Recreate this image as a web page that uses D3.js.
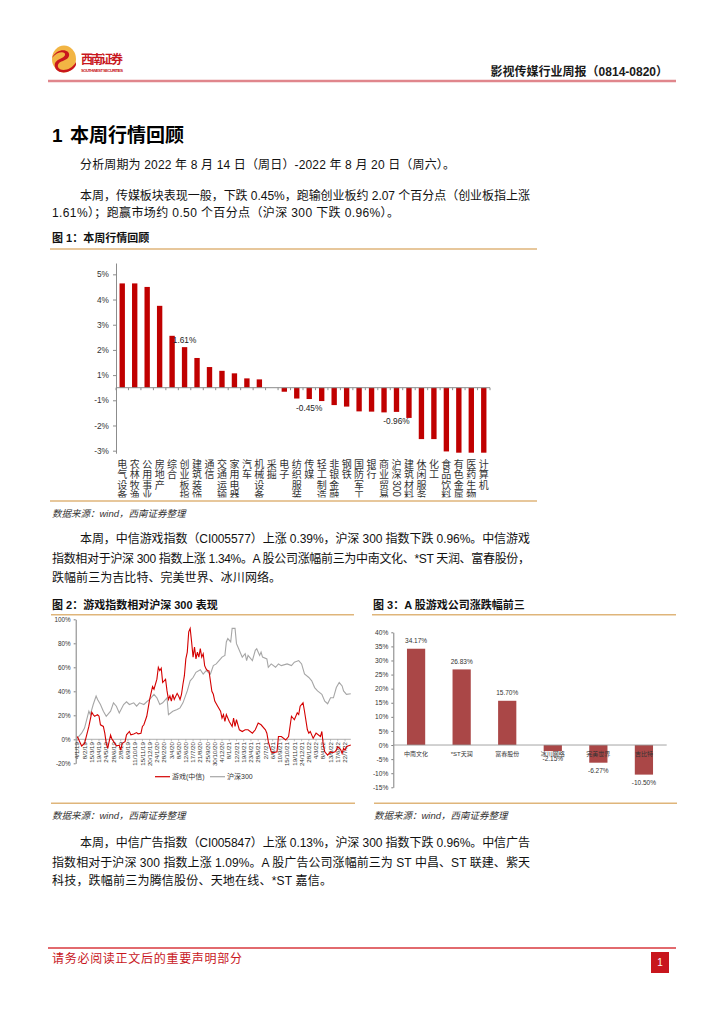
<!DOCTYPE html>
<html><head><meta charset="utf-8">
<script src="https://cdn.jsdelivr.net/npm/d3@7"></script>
<style>
html,body{margin:0;padding:0;background:#fff;}
svg text{font-family:"Liberation Sans",Arial,"Noto Sans CJK SC",sans-serif;}
</style></head><body>
<svg id="page" width="724" height="1024"></svg>
<script>
// ---------------- DATA ----------------
const fig1Categories = ["电气设备","农林牧渔","公用事业","房地产","综合","创业板指","建筑装饰","通信","交通运输","家用电器","汽车","机械设备","采掘","电子","纺织服装","传媒","轻工制造","非银金融","钢铁","国防军工","银行","商业贸易","沪深300","建筑材料","休闲服务","化工","食品饮料","有色金属","医药生物","计算机"];
const fig1Values = [4.14,4.14,4.0,3.25,2.06,1.61,1.18,0.82,0.67,0.57,0.37,0.33,0.0,-0.16,-0.43,-0.45,-0.53,-0.69,-0.75,-0.94,-0.95,-0.98,-0.96,-1.2,-2.04,-2.04,-2.53,-2.58,-2.58,-2.58];
const fig1Labelled = {"创业板指":"1.61%","传媒":"-0.45%","沪深300":"-0.96%"};
const fig1TickValues = [4.5,3.5,2.5,1.5,0.5,-0.5,-1.5,-2.5];
const fig1TickLabels = ["5%","4%","3%","2%","1%","-1%","-2%","-3%"];

const fig2TickLabels = ["4/1/19","8/2/19","15/3/19","19/4/19","24/5/19","28/6/19","2/8/19","6/9/19","11/10/19","15/11/19","20/12/19","24/1/20","28/2/20","3/4/20","8/5/20","12/6/20","17/7/20","21/8/20","25/9/20","30/10/20","4/12/20","8/1/21","12/2/21","19/3/21","23/4/21","28/5/21","2/7/21","6/8/21","10/9/21","15/10/21","19/11/21","24/12/21","28/1/22","4/3/22","8/4/22","13/5/22","17/6/22","22/7/22"];
const fig2YTicks = [-20,0,20,40,60,80,100];
const gameWeeks = [0,3,5,8,10,11,12,14,15,16,18,19,20,21,22,23,24,26,27,29,30,31,33,34,36,37,39,41,42,44,45,46,48,50,52,53,55,56,57,58,59,61,62,63,64,65,66,67,69,70,71,72,73,74,75,76,77,78,79,80,81,82,83,84,85,86,87,88,89,90,91,93,94,95,97,99,100,101,102,103,105,107,108,109,110,111,112,114,116,118,121,123,125,127,130,131,132,133,134,135,138,139,141,144,146,147,148,150,152,153,154,156,157,159,160,161,163,165,168,169,170,171,173,175,176,178,179,180,182,183,184,185,186,187,189];
const gameValues = [2.3,-5.6,-3.4,10.7,22.5,20.6,19.2,20.6,19.2,12.1,10.7,5.1,-3.4,-7.6,-2,3.6,0,-3.4,-5.4,-5,-9,-3.4,-2,3.7,6.5,3.7,4.5,5.6,4.5,5.1,10.7,12.1,19.2,33.2,43.9,41.7,50.1,60,57.2,59.2,47.3,50.1,40.3,33.2,36.1,31.8,37.5,33.2,38.3,36.1,33.2,37.5,45.9,53,67,72.7,89.6,92.4,81.1,68.5,76.9,67,72.7,68.5,75.5,68.5,71.3,61.4,58.6,57.2,57,40,37.5,31.8,27.6,23.4,17.7,20.6,14.9,20.6,14.9,10.7,17.7,10.7,16.3,12.1,7.9,6.5,7.9,7.9,5.1,7.9,13.5,12.1,7.9,5.1,-2,-6.2,-10.4,-11.3,-10.4,2.3,2.3,-0.6,2.3,10.7,19.2,16.3,22,20.6,27.6,30.4,23.4,7.9,5.1,6.5,0.8,5.1,2.3,6.5,-4.8,-10.4,-13.2,-10.4,-11.3,-10.4,-9,-6.2,-8.5,-11.8,-7.6,-9,-6.2,-5.6,-4.8];
const hs300Weeks = [0,3,5,8,9,11,13,14,16,18,20,23,25,27,29,32,34,36,39,41,43,46,48,50,53,55,57,59,62,63,66,69,71,73,76,78,80,82,85,87,89,92,94,96,99,100,102,103,104,106,107,109,110,111,114,116,117,118,121,123,124,126,127,128,131,132,134,137,139,141,145,148,150,153,155,157,160,162,164,166,169,171,173,175,177,179,181,183,184,186,189];
const hs300Values = [1,5.1,9.3,23.4,20.6,29,36.1,33.2,29,23.4,19.2,23.4,30.4,27.6,22,29,31.3,29,30.4,27.6,30.4,29,31.3,33.2,37.5,34.6,29,30.4,34.6,20.6,23.4,24.8,26.2,30.4,40.3,48.7,51.5,55.8,58,54.4,57.2,54.4,61.4,62.8,67,68.5,69.9,81.1,83.9,81.1,92.4,92.4,79.7,76.9,68.5,71.3,65.6,69.9,65.6,74.1,75.5,69.9,72.7,68.5,67,60,62.8,60,62.8,61.4,62.8,61.4,64.2,65.6,62.8,54.4,51.5,48.7,43.1,40.3,37.5,31.8,29.6,34.6,34.6,43.1,47.3,44.5,40.3,37.5,38];
const fig2Series = ["游戏(中信)","沪深300"];

const fig3Companies = ["中南文化","*ST天润","富春股份","冰川网络","完美世界","吉比特"];
const fig3Values = [34.17,26.83,15.70,-2.15,-6.27,-10.50];
const fig3YTicks = [-15,-10,-5,0,5,10,15,20,25,30,35,40];

// ---------------- PAGE ----------------
const svg = d3.select("#page");
const CJK = '"Noto Sans CJK SC","Liberation Sans",sans-serif';
const TAN = "#dfb57a";

// header logo
const logo = svg.append("g").attr("transform","translate(64,59)");
logo.append("ellipse").attr("rx",12).attr("ry",13.5).attr("fill","#f2b544");
logo.append("path").attr("d","M-12,-1 C-7,-12 7,-10 5,-3 C3,3 -7,1 -6,8 C-4,13 7,12 12,3 L12,6 C8,15 -7,16 -9,8 C-11,0 0,0 1,-4 C2,-8 -7,-8 -12,-1Z").attr("fill","#c8161d");
svg.append("text").attr("x",81).attr("y",64).attr("font-family",CJK).attr("font-size",12).attr("font-weight","bold").attr("fill","#c8161d").attr("textLength",42).text("西南证券");
svg.append("text").attr("x",81).attr("y",71.5).attr("font-size",4.2).attr("font-weight","bold").attr("fill","#c8161d").attr("textLength",42).text("SOUTHWEST SECURITIES");
svg.append("text").attr("x",668).attr("y",76).attr("text-anchor","end").attr("font-size",12).attr("font-weight","bold").attr("fill","#1a1a1a").text("影视传媒行业周报（0814-0820）");
svg.append("line").attr("x1",48).attr("x2",676).attr("y1",81).attr("y2",81).attr("stroke","#e0868c").attr("stroke-width",2.5);

// heading
svg.append("text").attr("x",52).attr("y",142).attr("font-size",19).attr("font-weight","bold").attr("fill","#000").text("1");
svg.append("text").attr("x",70).attr("y",142).attr("font-size",19).attr("font-weight","bold").attr("fill","#000").attr("font-family",CJK).text("本周行情回顾");

function para(x, y, s, len){
  const t = svg.append("text").attr("x",x).attr("y",y).attr("font-size",12).attr("fill","#111").text(s);
  if(len) t.attr("textLength",len).attr("lengthAdjust","spacing");
}
para(80,169,"分析周期为 2022 年 8 月 14 日（周日）-2022 年 8 月 20 日（周六）。",375);
para(80,200,"本周，传媒板块表现一般，下跌 0.45%，跑输创业板约 2.07 个百分点（创业板指上涨",450);
para(52,216.5,"1.61%）；跑赢市场约 0.50 个百分点（沪深 300 下跌 0.96%）。",347);

function figTitle(x,y,s){
  svg.append("text").attr("x",x).attr("y",y).attr("font-size",11).attr("font-weight","bold").attr("fill","#111").text(s);
}
function hline(x1,x2,y,c,w){svg.append("line").attr("x1",x1).attr("x2",x2).attr("y1",y).attr("y2",y).attr("stroke",c).attr("stroke-width",w);}
function source(x,y){
  svg.append("text").attr("x",x).attr("y",y).attr("font-size",9.5).attr("font-style","italic").attr("fill","#333").text("数据来源：wind，西南证券整理");
}
figTitle(52,242,"图 1：本周行情回顾");
hline(50,537,249,TAN,1.5);

// ---------------- FIGURE 1 ----------------
const g1 = svg.append("g");
const x1 = d3.scaleBand().domain(fig1Categories).range([116,490]).paddingInner(0.57).paddingOuter(0.285);
const y1 = d3.scaleLinear().domain([-2.6,4.95]).range([453.2,263]);
g1.selectAll("rect.b").data(fig1Categories).join("rect")
  .attr("x",d=>x1(d)).attr("width",x1.bandwidth())
  .attr("y",(d,i)=>y1(Math.max(0,fig1Values[i])))
  .attr("height",(d,i)=>Math.abs(y1(fig1Values[i])-y1(0)))
  .attr("fill","#c00000");
const ax1 = g1.append("g").attr("transform","translate(116,0)")
  .call(d3.axisLeft(y1).tickValues(fig1TickValues).tickFormat((d,i)=>fig1TickLabels[i]).tickSize(3).tickSizeOuter(0).tickPadding(4));
ax1.select(".domain").attr("stroke","#8c8c8c");
ax1.selectAll(".tick line").attr("stroke","#8c8c8c");
ax1.selectAll(".tick text").attr("font-size",8.3).attr("fill","#333").attr("font-family",'"Liberation Sans",Arial,sans-serif');
// category axis
g1.append("line").attr("x1",116).attr("x2",490).attr("y1",y1(0)).attr("y2",y1(0)).attr("stroke","#8c8c8c");
const bounds = fig1Categories.map(c=>x1(c)+x1.bandwidth()/2-x1.step()/2).concat([490]);
g1.selectAll("line.bt").data(bounds).join("line").attr("x1",d=>d).attr("x2",d=>d).attr("y1",y1(0)).attr("y2",y1(0)+2.5).attr("stroke","#8c8c8c");
// data labels
fig1Categories.forEach((c,i)=>{
  if(!fig1Labelled[c]) return;
  const v = fig1Values[i];
  const yy = v>=0 ? y1(v)-7 : y1(v)+9;
  g1.append("text").attr("x",x1(c)+x1.bandwidth()/2).attr("y",yy).attr("dy","0.35em").attr("text-anchor","middle")
    .attr("font-size",8.3).attr("fill","#222").text(fig1Labelled[c]);
});
// vertical category labels
svg.append("clipPath").attr("id","clip1").append("rect").attr("x",100).attr("y",455).attr("width",420).attr("height",42.5);
const lab1 = g1.append("g").attr("clip-path","url(#clip1)");
fig1Categories.forEach(c=>{
  const cx = x1(c)+x1.bandwidth()/2;
  const tokens = c.match(/[0-9]+|./g);
  let yy = 464.5;
  tokens.forEach(tk=>{
    if(/^[0-9]+$/.test(tk)){
      const len = tk.length*5.6;
      lab1.append("text").attr("transform",`translate(${cx},${yy-5+len/2}) rotate(90)`).attr("text-anchor","middle").attr("dy","0.35em")
        .attr("font-size",10).attr("fill","#333").text(tk);
      yy += len;
    } else {
      lab1.append("text").attr("x",cx).attr("y",yy).attr("dy","0.36em").attr("text-anchor","middle")
        .attr("font-family",CJK).attr("font-size",10).attr("fill","#333").text(tk);
      yy += 10.3;
    }
  });
});
hline(50,537,501,TAN,1.5);
source(52,516.5);

para(80,542.5,"本周，中信游戏指数（CI005577）上涨 0.39%，沪深 300 指数下跌 0.96%。中信游戏",450);
para(52,562.5,"指数相对于沪深 300 指数上涨 1.34%。A 股公司涨幅前三为中南文化、*ST 天润、富春股份，",478);
para(52,581.5,"跌幅前三为吉比特、完美世界、冰川网络。",229);

figTitle(52,608.5,"图 2：游戏指数相对沪深 300 表现");
figTitle(373,608.5,"图 3：A 股游戏公司涨跌幅前三");
hline(51,354,614.7,TAN,1.5);
hline(372,676,614.7,TAN,1.5);

// ---------------- FIGURE 2 ----------------
const g2 = svg.append("g");
const x2 = d3.scaleLinear().domain([0,189]).range([77.3,350.8]);
const y2 = d3.scaleLinear().domain([-20,100]).range([763.3,619.3]);
const ax2 = g2.append("g").attr("transform","translate(75.7,0)")
  .call(d3.axisLeft(y2).tickValues(fig2YTicks).tickFormat(d=>d+"%").tickSize(2).tickSizeOuter(0).tickPadding(3));
ax2.select(".domain").attr("stroke","#7f7f7f");
ax2.selectAll(".tick line").attr("stroke","#7f7f7f");
ax2.selectAll(".tick text").attr("font-size",6.3).attr("fill","#333").attr("font-family",'"Liberation Sans",Arial,sans-serif');
g2.append("line").attr("x1",75.7).attr("x2",350.8).attr("y1",y2(0)).attr("y2",y2(0)).attr("stroke","#9a9a9a").attr("stroke-width",0.8);
fig2TickLabels.forEach((s,i)=>{
  const xx = x2(i*5);
  g2.append("line").attr("x1",xx).attr("x2",xx).attr("y1",y2(0)).attr("y2",y2(0)+2).attr("stroke","#9a9a9a").attr("stroke-width",0.6);
  g2.append("text").attr("transform",`translate(${xx},742) rotate(-90)`).attr("text-anchor","end").attr("dy","0.35em")
    .attr("font-size",6.2).attr("fill","#333").text(s);
});
const line2 = d3.line().x(d=>x2(d[0])).y(d=>y2(d[1]));
g2.append("path").datum(hs300Weeks.map((w,i)=>[w,hs300Values[i]])).attr("d",line2).attr("fill","none").attr("stroke","#a6a6a6").attr("stroke-width",1.1);
g2.append("path").datum(gameWeeks.map((w,i)=>[w,gameValues[i]])).attr("d",line2).attr("fill","none").attr("stroke","#d40000").attr("stroke-width",1.1);
// legend
const leg = [[155,"#d40000"],[210,"#a6a6a6"]];
fig2Series.forEach((s,i)=>{
  g2.append("line").attr("x1",leg[i][0]).attr("x2",leg[i][0]+15).attr("y1",776.7).attr("y2",776.7).attr("stroke",leg[i][1]).attr("stroke-width",1.2);
  g2.append("text").attr("x",leg[i][0]+17).attr("y",776.7).attr("dy","0.35em").attr("font-family",CJK).attr("font-size",7).attr("fill","#333").text(s);
});

// ---------------- FIGURE 3 ----------------
const g3 = svg.append("g");
const x3 = d3.scaleBand().domain(fig3Companies).range([393.3,666.7]).paddingInner(0.6).paddingOuter(0.3);
const y3 = d3.scaleLinear().domain([-15,40]).range([787.3,632.3]);
g3.selectAll("rect").data(fig3Companies).join("rect")
  .attr("x",d=>x3(d)).attr("width",x3.bandwidth())
  .attr("y",(d,i)=>y3(Math.max(0,fig3Values[i])))
  .attr("height",(d,i)=>Math.abs(y3(fig3Values[i])-y3(0)))
  .attr("fill","#aa4747");
const ax3 = g3.append("g").attr("transform","translate(393.3,0)")
  .call(d3.axisLeft(y3).tickValues(fig3YTicks).tickFormat(d=>d+"%").tickSize(2).tickSizeOuter(0).tickPadding(3));
ax3.select(".domain").attr("stroke","#7f7f7f");
ax3.selectAll(".tick line").attr("stroke","#7f7f7f");
ax3.selectAll(".tick text").attr("font-size",6.6).attr("fill","#333").attr("font-family",'"Liberation Sans",Arial,sans-serif');
g3.append("line").attr("x1",393.3).attr("x2",666.7).attr("y1",y3(0)).attr("y2",y3(0)).attr("stroke","#9a9a9a").attr("stroke-width",0.9);
fig3Companies.forEach((c,i)=>{
  const v = fig3Values[i], cx = x3(c)+x3.bandwidth()/2;
  g3.append("text").attr("x",cx).attr("y",v>=0?y3(v)-8:y3(v)+8).attr("dy","0.35em").attr("text-anchor","middle")
    .attr("font-size",6.5).attr("fill","#333").text(v.toFixed(2)+"%");
  g3.append("text").attr("x",cx).attr("y",754).attr("dy","0.35em").attr("text-anchor","middle")
    .attr("font-family",CJK).attr("font-size",6).attr("fill","#333").text(c);
});

hline(51,355,803.3,TAN,1.5);
hline(374,677,803.3,TAN,1.5);
source(52,818.5);
source(374,818.5);

para(80,847,"本周，中信广告指数（CI005847）上涨 0.13%，沪深 300 指数下跌 0.96%。中信广告",450);
para(52,866.5,"指数相对于沪深 300 指数上涨 1.09%。A 股广告公司涨幅前三为 ST 中昌、ST 联建、紫天",478);
para(52,885,"科技，跌幅前三为腾信股份、天地在线、*ST 嘉信。",280);

// footer
hline(48,676,948,"#d8383e",1.3);
svg.append("text").attr("x",52).attr("y",962.5).attr("font-family",CJK).attr("font-size",12).attr("fill","#c8161d").attr("textLength",190).attr("lengthAdjust","spacing").text("请务必阅读正文后的重要声明部分");
svg.append("rect").attr("x",651).attr("y",952).attr("width",18).attr("height",21).attr("fill","#c8161d");
svg.append("text").attr("x",660).attr("y",962.5).attr("dy","0.35em").attr("text-anchor","middle").attr("font-size",10).attr("fill","#fff").text("1");
</script>
</body></html>
